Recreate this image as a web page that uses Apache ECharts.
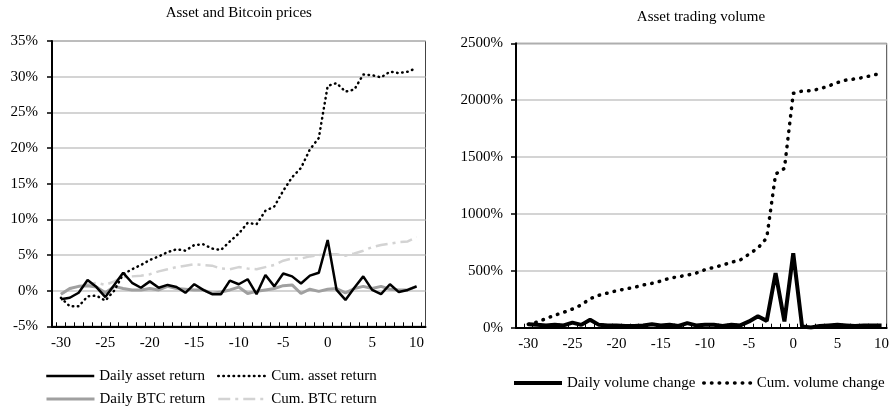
<!DOCTYPE html>
<html><head><meta charset="utf-8">
<script src="https://cdn.jsdelivr.net/npm/echarts@6/dist/echarts.min.js"></script>
<style>html,body{margin:0;padding:0;background:#fff}#c{width:893px;height:408px}</style>
</head><body><div id="c"></div>
<script>
const days = [-30,-29,-28,-27,-26,-25,-24,-23,-22,-21,-20,-19,-18,-17,-16,-15,-14,-13,-12,-11,-10,-9,-8,-7,-6,-5,-4,-3,-2,-1,0,1,2,3,4,5,6,7,8,9,10];
const xTickLabels = [-30,-25,-20,-15,-10,-5,0,5,10];
const dailyAsset = [-1.2,-1.0,-0.3,1.5,0.5,-0.9,0.8,2.5,1.1,0.4,1.3,0.4,0.8,0.5,-0.3,0.9,0.1,-0.5,-0.5,1.4,0.9,1.6,-0.5,2.2,0.6,2.4,2.0,1.0,2.1,2.5,7.1,0.1,-1.3,0.4,2.0,0.1,-0.5,0.9,-0.2,0.1,0.6];
const cumAsset = [-1.0,-2.2,-2.2,-0.8,-0.7,-1.4,0.0,2.3,3.0,3.6,4.3,4.8,5.4,5.8,5.6,6.4,6.5,5.9,5.7,6.9,8.0,9.5,9.3,11.2,11.8,14.0,15.9,17.2,19.8,21.4,28.7,29.1,27.9,28.2,30.3,30.2,29.9,30.7,30.5,30.7,31.2];
const dailyBTC = [-0.5,0.3,0.6,0.7,0.5,-0.3,0.6,0.3,0.1,0.1,0.3,0.1,0.6,0.3,0.2,0.1,0.1,-0.4,-0.2,0.1,0.5,-0.4,-0.1,0.1,0.3,0.7,0.8,-0.4,0.2,-0.1,0.2,0.3,-0.3,0.3,0.6,0.3,0.6,0.2,0.1,0.1,0.6];
const cumBTC = [-0.5,0.2,0.6,0.9,1.1,0.8,1.3,1.9,2.0,2.1,2.3,2.7,3.0,3.3,3.5,3.7,3.6,3.5,3.1,3.0,3.3,3.1,3.0,3.3,3.6,4.2,4.5,4.5,4.8,5.0,5.1,5.1,4.9,5.2,5.6,6.1,6.4,6.6,6.8,6.9,7.5];
const dailyVolume = [30,25,20,25,20,45,25,70,25,20,20,15,15,20,30,20,25,15,40,20,25,25,15,25,20,55,100,60,480,55,655,10,2,15,20,25,20,15,20,20,20];
const cumVolume = [30,50,80,110,135,164,200,255,285,305,325,340,355,375,390,410,435,448,462,480,510,530,550,575,595,647,700,790,1350,1400,2060,2080,2083,2100,2125,2155,2177,2187,2200,2220,2235];

const FONT = '"Liberation Serif", "Times New Roman", serif';
const txt = {color:'#000', fontFamily: FONT, fontSize: 15};
function pairs(arr){ return days.map((d,i)=>[d, arr[i]]); }
const halfTicks = days.map(d=>d-0.5).concat([days[days.length-1]+0.5]);

function xAxis(grid, min, max){
  return {type:'value', gridIndex:grid, min:min, max:max,
    axisLine:{onZero:false, lineStyle:{color:'#000', width:2}},
    axisTick:{inside:true, length:4, customValues:halfTicks, lineStyle:{color:'#000', width:1}},
    axisLabel:Object.assign({customValues:xTickLabels, margin:9}, txt),
    splitLine:{show:false}};
}
function yAxis(grid, min, max, interval, margin){
  return {type:'value', gridIndex:grid, min:min, max:max, interval:interval,
    axisLine:{show:true, onZero:false, lineStyle:{color:'#000', width:2}},
    axisTick:{show:true, inside:false, length:5, lineStyle:{color:'#000', width:1.5}},
    axisLabel:Object.assign({formatter:function(v){ return String(v) + '%'; }, margin:margin}, txt),
    splitLine:{show:true, lineStyle:{color:'#c6c6c6', width:1.5}}};
}
function legend(name, left, top){
  return {data:[name], left:left, top:top, itemWidth:48, itemHeight:14, padding:0,
    selectedMode:false, textStyle:Object.assign({}, txt),
    itemStyle:{color:'rgba(0,0,0,0)', borderColor:'rgba(0,0,0,0)', borderWidth:0, opacity:0},
    lineStyle:{width:'inherit'}};
}
function line(name, xi, arr, ls, z){
  return {name:name, type:'line', xAxisIndex:xi, yAxisIndex:xi, data:pairs(arr), symbol:'none',
    lineStyle:ls, itemStyle:{color:ls.color}, z:z, silent:true, emphasis:{disabled:true}};
}

const option = {
  animation:false,
  backgroundColor:'#fff',
  title:[
    {text:'Asset and Bitcoin prices', left:238.8, top:6, textAlign:'center', padding:0,
     textStyle:{fontFamily:FONT, fontSize:15, fontWeight:'normal', color:'#000'}},
    {text:'Asset trading volume', left:701, top:10, textAlign:'center', padding:0,
     textStyle:{fontFamily:FONT, fontSize:15, fontWeight:'normal', color:'#000'}}
  ],
  grid:[
    {left:52, right:467.5, top:41, bottom:81.7, show:true, borderColor:'#444', borderWidth:1, backgroundColor:'transparent'},
    {left:516, right:6.3, top:43.3, bottom:80.3, show:true, borderColor:'#444', borderWidth:1, backgroundColor:'transparent'}
  ],
  xAxis:[xAxis(0, -31, 11), xAxis(1, -31.39, 10.58)],
  yAxis:[yAxis(0, -5, 35, 5, 14), yAxis(1, 0, 2500, 500, 13)],
  legend:[
    legend('Daily asset return', 45, 368.5),
    legend('Cum. asset return', 217, 368.5),
    legend('Daily BTC return', 45, 391.5),
    legend('Cum. BTC return', 217, 391.5),
    legend('Daily volume change', 512, 375.5),
    legend('Cum. volume change', 702, 375.5)
  ],
  series:[
    line('Daily asset return', 0, dailyAsset, {color:'#000', width:2.5}, 6),
    line('Cum. asset return', 0, cumAsset, {color:'#000', width:2.5, type:[0.5,4.6], cap:'round'}, 5),
    line('Daily BTC return', 0, dailyBTC, {color:'#a0a0a0', width:3}, 4),
    line('Cum. BTC return', 0, cumBTC, {color:'#d3d3d3', width:2.5, type:[12,5,3,5]}, 3),
    line('Daily volume change', 1, dailyVolume, {color:'#000', width:4}, 5),
    line('Cum. volume change', 1, cumVolume, {color:'#000', width:3.5, type:[0.5,7.2], cap:'round'}, 4)
  ]
};
const chart = echarts.init(document.getElementById('c'));
chart.setOption(option);
</script>
</body></html>
